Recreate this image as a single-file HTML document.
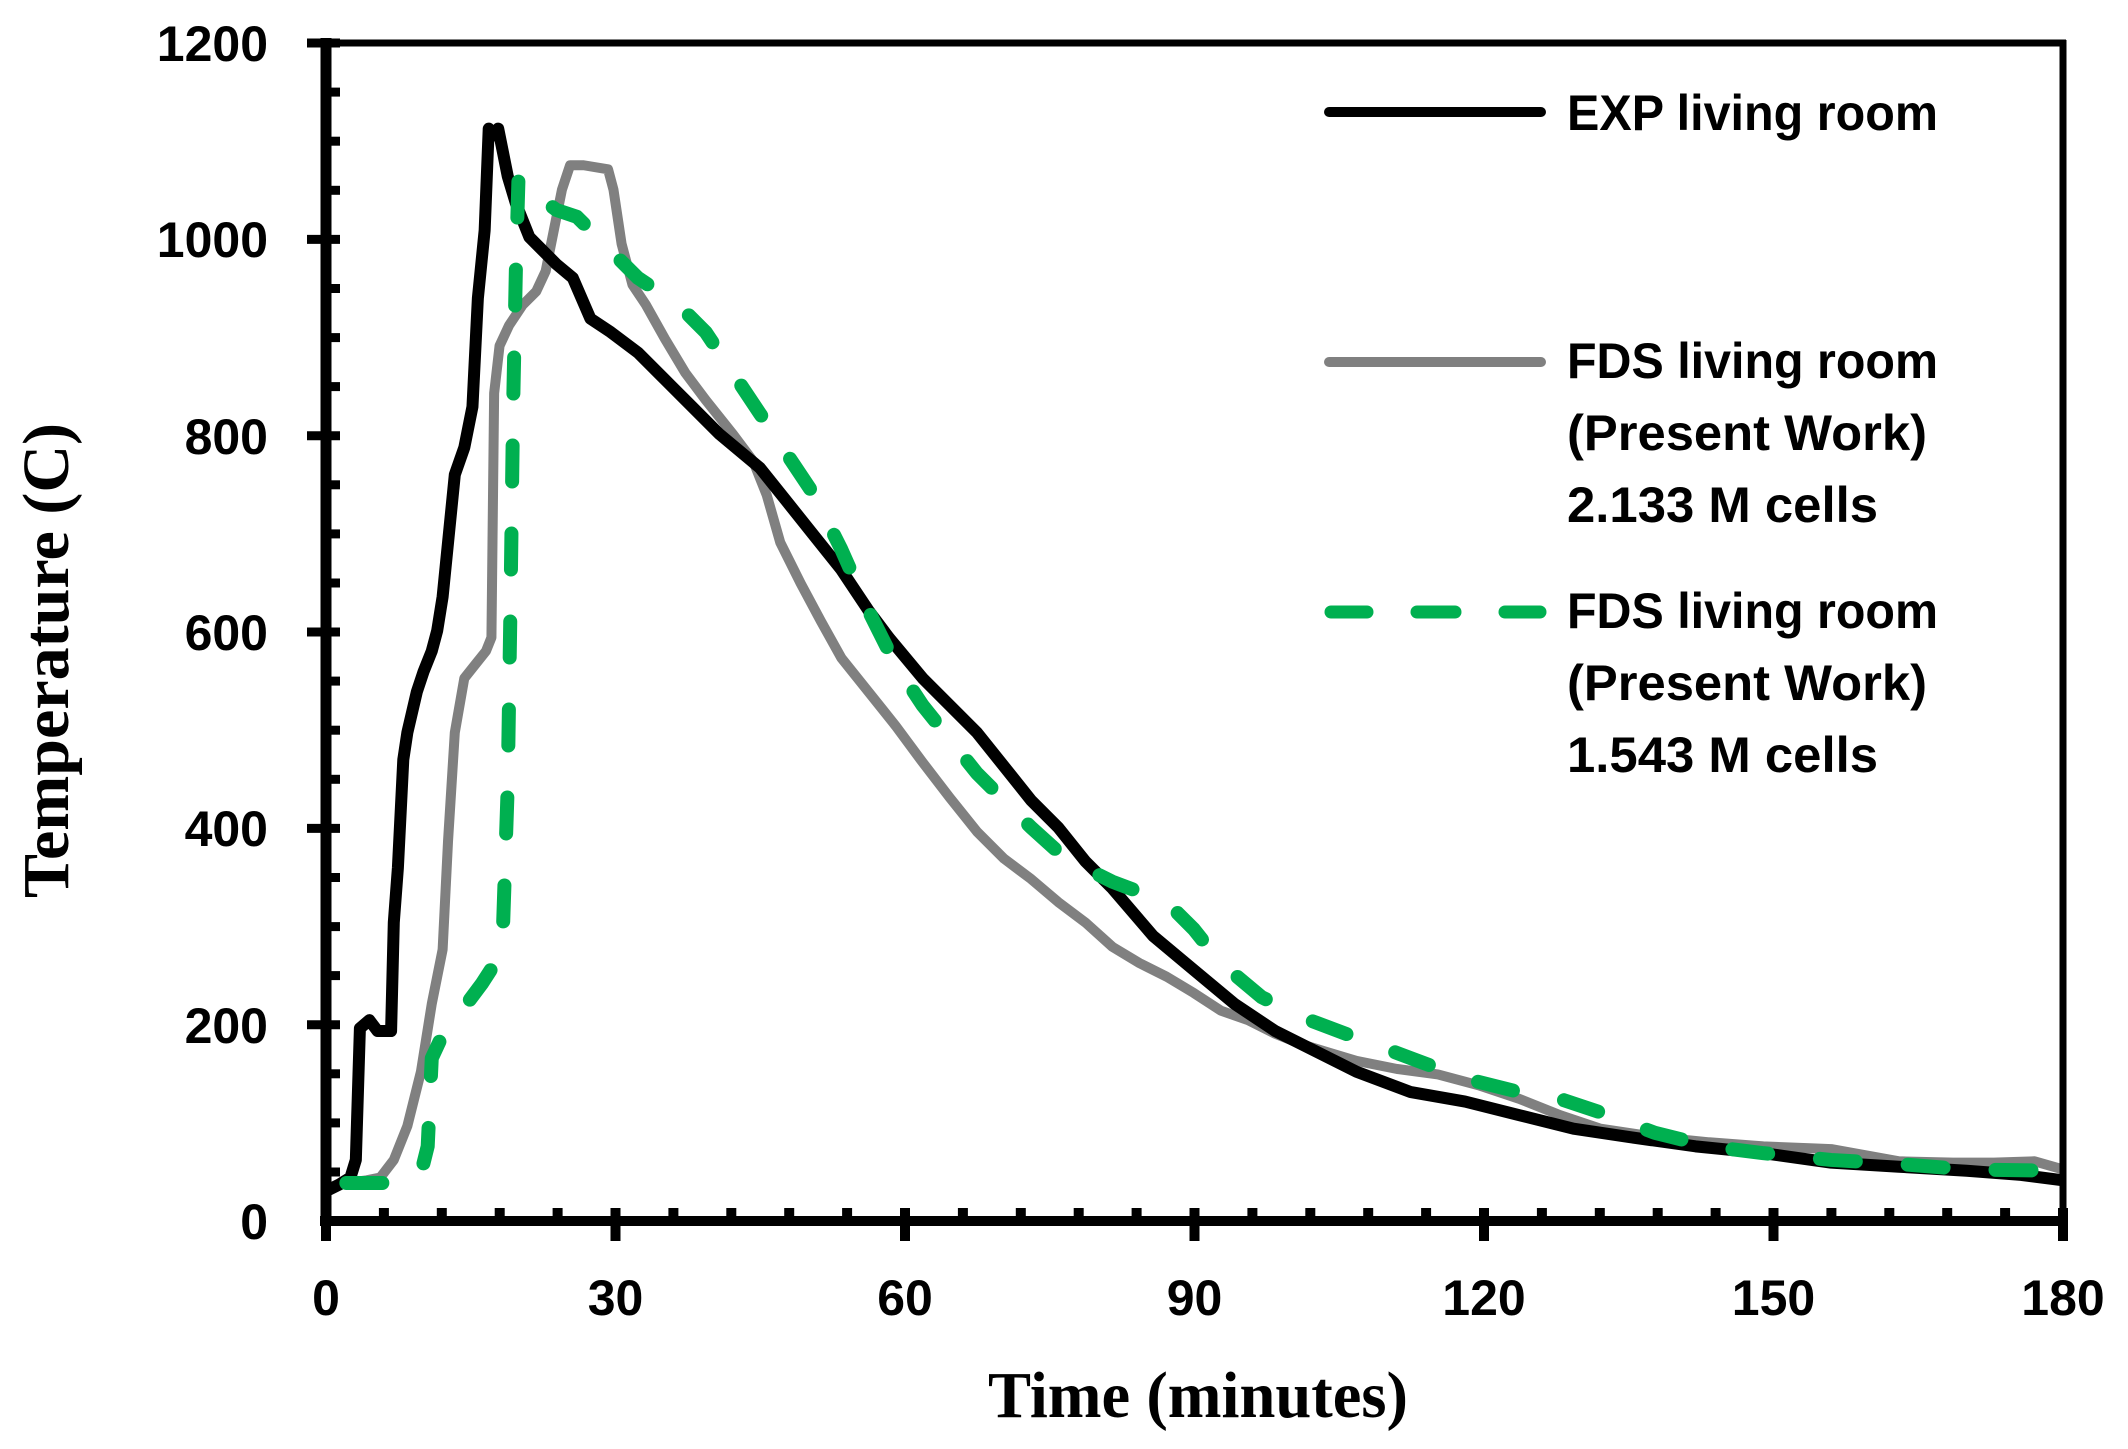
<!DOCTYPE html>
<html><head><meta charset="utf-8"><style>html,body{margin:0;padding:0;background:#fff}svg{display:block}</style></head>
<body>
<svg width="2128" height="1449" viewBox="0 0 2128 1449" xmlns="http://www.w3.org/2000/svg">
<rect width="2128" height="1449" fill="#fff"/>
<g transform="matrix(1.356,0,0,1.357,0.56,-0.3)" fill="none" stroke-linejoin="round">
<path vector-effect="non-scaling-stroke" stroke="#808080" stroke-width="10" d="M255,872 L270,870 280,868 290,855 300,830 310,790 318,740 322,720 326,700 330,620 335,540 342,500 350,490 358,480 362,470 364,290 368,255 375,240 385,225 395,215 402,200 408,170 414,140 420,122 430,122 448,125 452,140 458,180 466,210 476,225 490,250 505,275 520,295 540,320 555,340 565,365 575,400 590,430 605,458 620,485 640,510 660,535 680,562 700,588 720,613 740,633 760,648 780,665 800,680 820,698 840,710 860,720 880,732 900,745 920,752 940,762 960,770 980,776 1000,782 1030,788 1060,792 1090,800 1120,810 1150,822 1180,832 1220,838 1260,842 1300,845 1350,847 1400,856 1440,857 1470,857 1500,856 1521,862"/>
<path vector-effect="non-scaling-stroke" stroke="#000" stroke-width="12" d="M240,878 L250,873 258,868 262,855 265,758 272,752 278,760 288,760 290,680 293,640 297,560 300,540 307,510 312,495 318,480 322,465 326,440 330,400 335,350 342,330 348,300 352,220 357,170 360,95 364,100 367,95 370,110 374,130 380,150 390,175 400,185 410,195 422,205 435,235 450,245 470,260 490,280 510,300 530,320 560,345 580,370 600,395 620,420 640,450 655,470 680,500 700,520 720,540 740,565 760,590 780,610 800,635 820,655 850,690 880,715 910,740 940,760 970,775 1000,790 1040,805 1080,812 1120,822 1160,832 1200,838 1250,845 1300,850 1350,857 1400,860 1450,863 1490,866 1521,870"/>
<path vector-effect="non-scaling-stroke" stroke="#00B050" stroke-width="14" stroke-linecap="round" stroke-dasharray="36 52" d="M255,872 L300,872 310,865 315,845 318,780 325,765 340,745 355,725 368,705 370,700 374,580 376,450 378,300 380,200 382,130 390,140 410,155 425,160 445,180 470,205 500,225 520,245 540,275 560,305 580,335 600,365 620,405 640,450 660,490 680,520 700,545 720,570 740,590 760,610 780,628 800,640 820,650 860,665 880,685 900,710 930,735 960,750 1000,765 1040,780 1080,795 1120,805 1150,810 1180,820 1220,835 1260,845 1300,850 1350,855 1400,858 1450,862 1521,863"/>
</g>
<line x1="326" y1="43" x2="2066" y2="43" stroke="#000" stroke-width="7"/>
<line x1="2063" y1="40" x2="2063" y2="1226" stroke="#000" stroke-width="7"/>
<line x1="326" y1="38" x2="326" y2="1226" stroke="#000" stroke-width="11"/>
<line x1="320" y1="1221" x2="2066" y2="1221" stroke="#000" stroke-width="10"/>
<g stroke="#000" stroke-width="9">
<line x1="307" y1="43" x2="340" y2="43"/><line x1="307" y1="239.4" x2="340" y2="239.4"/><line x1="307" y1="435.7" x2="340" y2="435.7"/><line x1="307" y1="632" x2="340" y2="632"/><line x1="307" y1="828.4" x2="340" y2="828.4"/><line x1="307" y1="1024.7" x2="340" y2="1024.7"/>
<line x1="326" y1="92.1" x2="340" y2="92.1"/><line x1="326" y1="141.2" x2="340" y2="141.2"/><line x1="326" y1="190.3" x2="340" y2="190.3"/>
<line x1="326" y1="288.5" x2="340" y2="288.5"/><line x1="326" y1="337.6" x2="340" y2="337.6"/><line x1="326" y1="386.6" x2="340" y2="386.6"/>
<line x1="326" y1="484.8" x2="340" y2="484.8"/><line x1="326" y1="533.9" x2="340" y2="533.9"/><line x1="326" y1="583" x2="340" y2="583"/>
<line x1="326" y1="681.1" x2="340" y2="681.1"/><line x1="326" y1="730.2" x2="340" y2="730.2"/><line x1="326" y1="779.3" x2="340" y2="779.3"/>
<line x1="326" y1="877.5" x2="340" y2="877.5"/><line x1="326" y1="926.6" x2="340" y2="926.6"/><line x1="326" y1="975.6" x2="340" y2="975.6"/>
<line x1="326" y1="1073.8" x2="340" y2="1073.8"/><line x1="326" y1="1122.9" x2="340" y2="1122.9"/><line x1="326" y1="1172" x2="340" y2="1172"/>
</g>
<g font-family="'Liberation Sans',Arial,sans-serif" font-weight="bold" font-size="50" fill="#000" text-anchor="end">
<text x="268" y="61">1200</text><text x="268" y="257">1000</text><text x="268" y="454">800</text><text x="268" y="650">600</text><text x="268" y="846">400</text><text x="268" y="1043">200</text><text x="268" y="1239">0</text>
</g>
<g font-family="'Liberation Sans',Arial,sans-serif" font-weight="bold" font-size="50" fill="#000" text-anchor="middle">
<text x="326" y="1315">0</text><text x="615.5" y="1315">30</text><text x="905" y="1315">60</text><text x="1194.5" y="1315">90</text><text x="1484" y="1315">120</text><text x="1773.5" y="1315">150</text><text x="2063" y="1315">180</text>
</g>
<text x="988" y="1417" font-family="'Liberation Serif','Times New Roman',serif" font-weight="bold" font-size="66" textLength="420" lengthAdjust="spacingAndGlyphs">Time (minutes)</text>
<text transform="translate(68,898) rotate(-90)" font-family="'Liberation Serif','Times New Roman',serif" font-weight="bold" font-size="66" textLength="475" lengthAdjust="spacingAndGlyphs">Temperature (C)</text>
<line x1="1329" y1="112" x2="1541" y2="112" stroke="#000" stroke-width="10" stroke-linecap="round"/>
<line x1="1329" y1="362" x2="1541" y2="362" stroke="#808080" stroke-width="10" stroke-linecap="round"/>
<g stroke="#00B050" stroke-width="13" stroke-linecap="round">
<line x1="1331" y1="612" x2="1367" y2="612"/><line x1="1417" y1="612" x2="1455" y2="612"/><line x1="1505" y1="612" x2="1540" y2="612"/>
</g>
<g font-family="'Liberation Sans',Arial,sans-serif" font-weight="bold" font-size="50" fill="#000">
<text x="1567" y="130" textLength="371" lengthAdjust="spacingAndGlyphs">EXP living room</text>
<text x="1567" y="378" textLength="371" lengthAdjust="spacingAndGlyphs">FDS living room</text>
<text x="1567" y="450" textLength="360" lengthAdjust="spacingAndGlyphs">(Present Work)</text>
<text x="1567" y="522" textLength="311" lengthAdjust="spacingAndGlyphs">2.133 M cells</text>
<text x="1567" y="628" textLength="371" lengthAdjust="spacingAndGlyphs">FDS living room</text>
<text x="1567" y="700" textLength="360" lengthAdjust="spacingAndGlyphs">(Present Work)</text>
<text x="1567" y="772" textLength="311" lengthAdjust="spacingAndGlyphs">1.543 M cells</text>
</g>
<g stroke="#000" stroke-width="10">
<line x1="326" y1="1208" x2="326" y2="1241"/><line x1="615.5" y1="1208" x2="615.5" y2="1241"/><line x1="905" y1="1208" x2="905" y2="1241"/><line x1="1194.5" y1="1208" x2="1194.5" y2="1241"/><line x1="1484" y1="1208" x2="1484" y2="1241"/><line x1="1773.5" y1="1208" x2="1773.5" y2="1241"/><line x1="2063" y1="1208" x2="2063" y2="1241"/>
<line x1="383.9" y1="1208" x2="383.9" y2="1221"/><line x1="441.8" y1="1208" x2="441.8" y2="1221"/><line x1="499.7" y1="1208" x2="499.7" y2="1221"/><line x1="557.6" y1="1208" x2="557.6" y2="1221"/>
<line x1="673.4" y1="1208" x2="673.4" y2="1221"/><line x1="731.3" y1="1208" x2="731.3" y2="1221"/><line x1="789.2" y1="1208" x2="789.2" y2="1221"/><line x1="847.1" y1="1208" x2="847.1" y2="1221"/>
<line x1="962.9" y1="1208" x2="962.9" y2="1221"/><line x1="1020.8" y1="1208" x2="1020.8" y2="1221"/><line x1="1078.7" y1="1208" x2="1078.7" y2="1221"/><line x1="1136.6" y1="1208" x2="1136.6" y2="1221"/>
<line x1="1252.4" y1="1208" x2="1252.4" y2="1221"/><line x1="1310.3" y1="1208" x2="1310.3" y2="1221"/><line x1="1368.2" y1="1208" x2="1368.2" y2="1221"/><line x1="1426.1" y1="1208" x2="1426.1" y2="1221"/>
<line x1="1541.9" y1="1208" x2="1541.9" y2="1221"/><line x1="1599.8" y1="1208" x2="1599.8" y2="1221"/><line x1="1657.7" y1="1208" x2="1657.7" y2="1221"/><line x1="1715.6" y1="1208" x2="1715.6" y2="1221"/>
<line x1="1831.4" y1="1208" x2="1831.4" y2="1221"/><line x1="1889.3" y1="1208" x2="1889.3" y2="1221"/><line x1="1947.2" y1="1208" x2="1947.2" y2="1221"/><line x1="2005.1" y1="1208" x2="2005.1" y2="1221"/>
</g>
</svg>
</body></html>
